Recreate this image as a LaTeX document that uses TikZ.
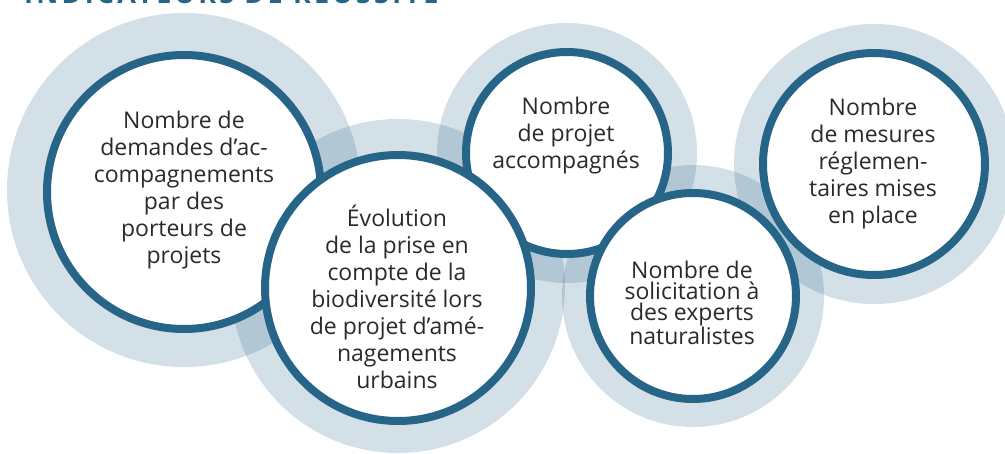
\documentclass[tikz,border=0pt]{standalone}
\usepackage{fontspec}
\setmainfont{Open Sans}
\definecolor{teal1}{HTML}{266488}
\definecolor{txt}{HTML}{2B2A29}
\tikzset{
  halo/.style={fill=teal1, fill opacity=0.2, draw=none},
  ring/.style={fill=white, draw=teal1, line width=8pt},
  lbl/.style={align=center, text=txt, font=\fontsize{23}{27}\selectfont, inner sep=0pt},
}
\newfontfamily\titlefont[LetterSpace=12]{Open Sans}
\begin{document}
\begin{tikzpicture}[x=1pt,y=-1pt]
\useasboundingbox (0,0) rectangle (1005,453);
\clip (0,0) rectangle (1005,453);
% title (cut at top)
\node[anchor=south west, inner sep=0pt, text=teal1, font=\titlefont\bfseries\fontsize{27}{30}\selectfont] (title) at (24,4) {INDICATEURS DE RÉUSSITE};
% halos
\fill[halo] (184,190) circle (177);
\fill[halo] (398,286) circle (167);
\fill[halo] (567,153) circle (130);
\fill[halo] (693,296) circle (131);
\fill[halo] (874,164) circle (140);
% circles
\node[ring, circle, minimum size=274pt, inner sep=0pt] (c1) at (184,192) {};
\node[ring, circle, minimum size=202pt, inner sep=0pt] (c3) at (567,153) {};
\node[ring, circle, minimum size=266pt, inner sep=0pt] (c2) at (398,288) {};
\node[ring, circle, minimum size=206pt, inner sep=0pt] (c4) at (693,296) {};
\node[ring, circle, minimum size=222pt, inner sep=0pt] (c5) at (874,164) {};
% labels
\node[lbl] (t1) at (184,190) {Nombre de\\demandes d’ac-\\compagnements\\par des\\porteurs de\\projets};
\node[lbl] (t2) at (397,297) {Évolution\\de la prise en\\compte de la\\biodiversité lors\\de projet d’amé-\\nagements\\urbains};
\node[lbl] (t3) at (566,136) {Nombre\\de projet\\accompagnés};
\node[lbl, font=\fontsize{23}{21}\selectfont] (t4) at (692,303) {Nombre de\\solicitation à\\des experts\\naturalistes};
\node[lbl] (t5) at (873,164) {Nombre\\de mesures\\réglemen-\\taires mises\\en place};
\end{tikzpicture}
\end{document}
